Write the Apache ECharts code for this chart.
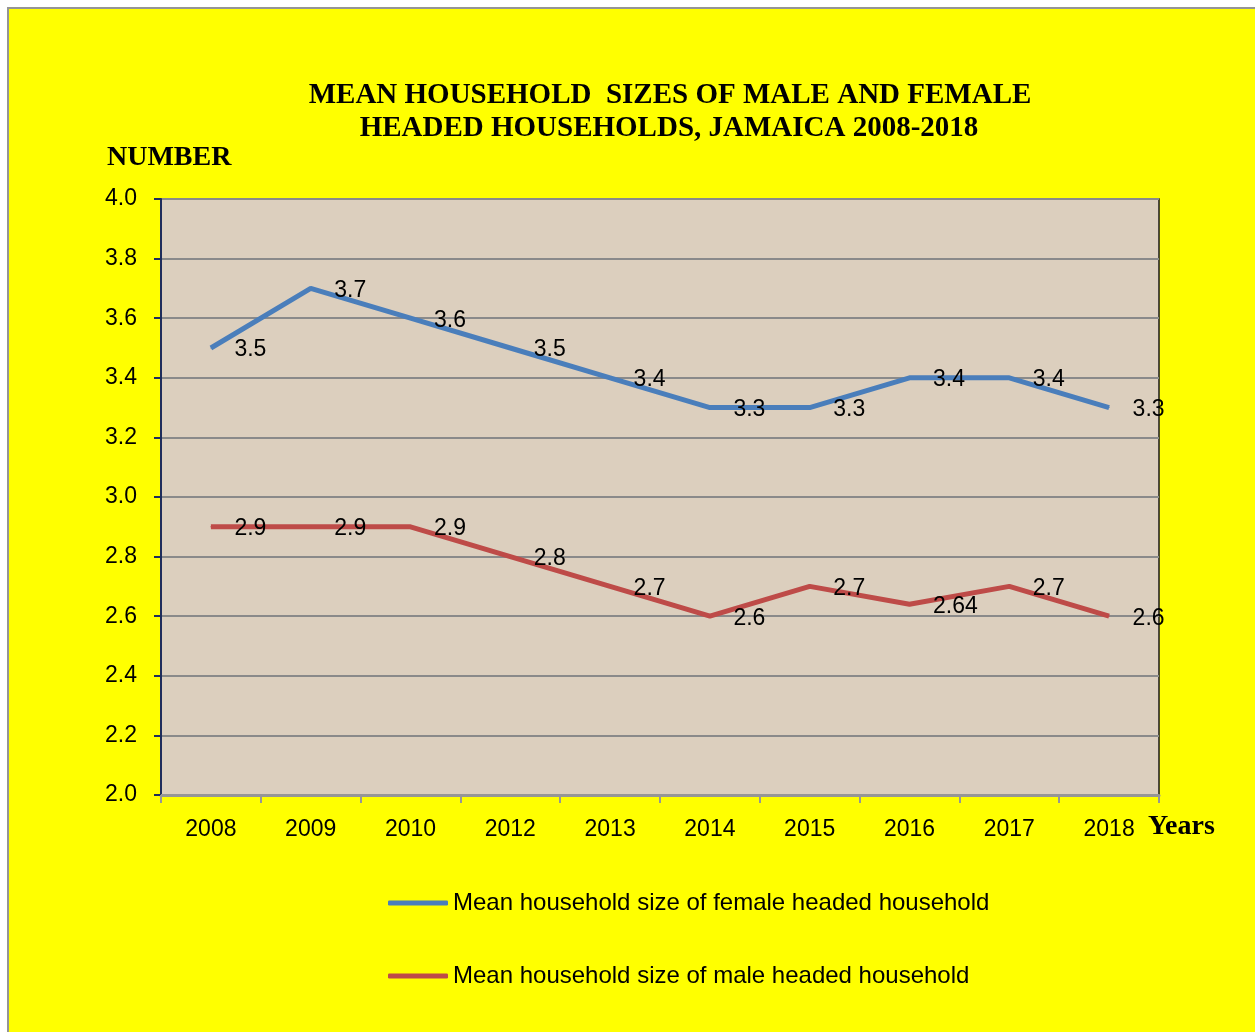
<!DOCTYPE html>
<html>
<head>
<meta charset="utf-8">
<script src="https://cdn.jsdelivr.net/npm/echarts@6/dist/echarts.min.js"></script>
<style>
html,body{margin:0;padding:0;background:#fff;}
#bg{position:absolute;left:7px;top:7px;width:1250px;height:1030px;background:#ffff00;border-left:2px solid #959595;border-top:2px solid #959595;}
#chart{position:absolute;left:0;top:0;width:1255px;height:1032px;}
</style>
</head>
<body>
<div id="bg"></div>
<div id="chart"></div>
<script>
var years = ['2008','2009','2010','2012','2013','2014','2015','2016','2017','2018'];
var femaleSize = [3.5, 3.7, 3.6, 3.5, 3.4, 3.3, 3.3, 3.4, 3.4, 3.3];
var maleSize = [2.9, 2.9, 2.9, 2.8, 2.7, 2.6, 2.7, 2.64, 2.7, 2.6];
var femaleName = 'Mean household size of female headed household';
var maleName = 'Mean household size of male headed household';
var titleLines = ['MEAN HOUSEHOLD  SIZES OF MALE AND FEMALE', 'HEADED HOUSEHOLDS, JAMAICA 2008-2018'];

var sans = 'Liberation Sans';
var serif = 'Liberation Serif';
var chart = echarts.init(document.getElementById('chart'));

function lineSeries(name, data, color) {
  return {
    name: name, type: 'line', data: data,
    symbol: 'circle', symbolSize: 1,
    itemStyle: {color: color},
    lineStyle: {color: color, width: 5},
    label: {show: true, position: 'right', distance: 23, offset: [0, 2], color: '#000', fontFamily: sans, fontSize: 23,
            formatter: function(p){ return String(p.value); }},
    emphasis: {disabled: true},
    animation: false
  };
}

function legendFor(name, top, color) {
  return {data: [{name: name, itemStyle: {color: color, opacity: 1}}], left: 383, top: top, orient: 'vertical',
          icon: 'roundRect', itemWidth: 60, itemHeight: 5,
          textStyle: {fontFamily: sans, fontSize: 24, color: '#000', lineHeight: 24}, selectedMode: false};
}

chart.setOption({
  backgroundColor: 'transparent',
  animation: false,
  grid: {left: 161, top: 199, right: 96, bottom: 237, containLabel: false, outerBoundsMode: 'none',
         show: true, backgroundColor: '#dccfbe', borderColor: '#1a1a1a', borderWidth: 1.5},
  legend: [
    legendFor(femaleName, 886, '#4a7ebb'),
    legendFor(maleName, 959, '#be4b48')
  ],
  xAxis: {
    type: 'category', data: years, boundaryGap: true,
    axisLine: {lineStyle: {color: '#969696', width: 3}},
    axisTick: {show: true, length: 8, lineStyle: {color: '#969696', width: 2}},
    axisLabel: {color: '#000', fontFamily: sans, fontSize: 23, margin: 23, interval: 0},
    splitLine: {show: false}
  },
  yAxis: {
    type: 'value', min: 2, max: 4, interval: 0.2,
    axisLine: {show: true, lineStyle: {color: '#1f2d5c', width: 2}},
    axisTick: {show: true, length: 7, lineStyle: {color: '#1f2d5c', width: 2}},
    axisLabel: {color: '#000', fontFamily: sans, fontSize: 23, margin: 24,
                formatter: function(v){ return v.toFixed(1); }},
    splitLine: {show: true, lineStyle: {color: '#8a8a8a', width: 2}}
  },
  series: [
    lineSeries(femaleName, femaleSize, '#4a7ebb'),
    lineSeries(maleName, maleSize, '#be4b48')
  ],
  graphic: [
    {type: 'text', x: 670, y: 96, style: {text: titleLines[0], fontFamily: serif, fontWeight: 'bold', fontSize: 29, fill: '#000', textAlign: 'center', textVerticalAlign: 'middle'}},
    {type: 'text', x: 669, y: 129, style: {text: titleLines[1], fontFamily: serif, fontWeight: 'bold', fontSize: 29, fill: '#000', textAlign: 'center', textVerticalAlign: 'middle'}},
    {type: 'text', x: 107, y: 158, style: {text: 'NUMBER', fontFamily: serif, fontWeight: 'bold', fontSize: 28, fill: '#000', textAlign: 'left', textVerticalAlign: 'middle'}},
    {type: 'text', x: 1148, y: 827, style: {text: 'Years', fontFamily: serif, fontWeight: 'bold', fontSize: 28, fill: '#000', textAlign: 'left', textVerticalAlign: 'middle'}}
  ]
});
</script>
</body>
</html>
